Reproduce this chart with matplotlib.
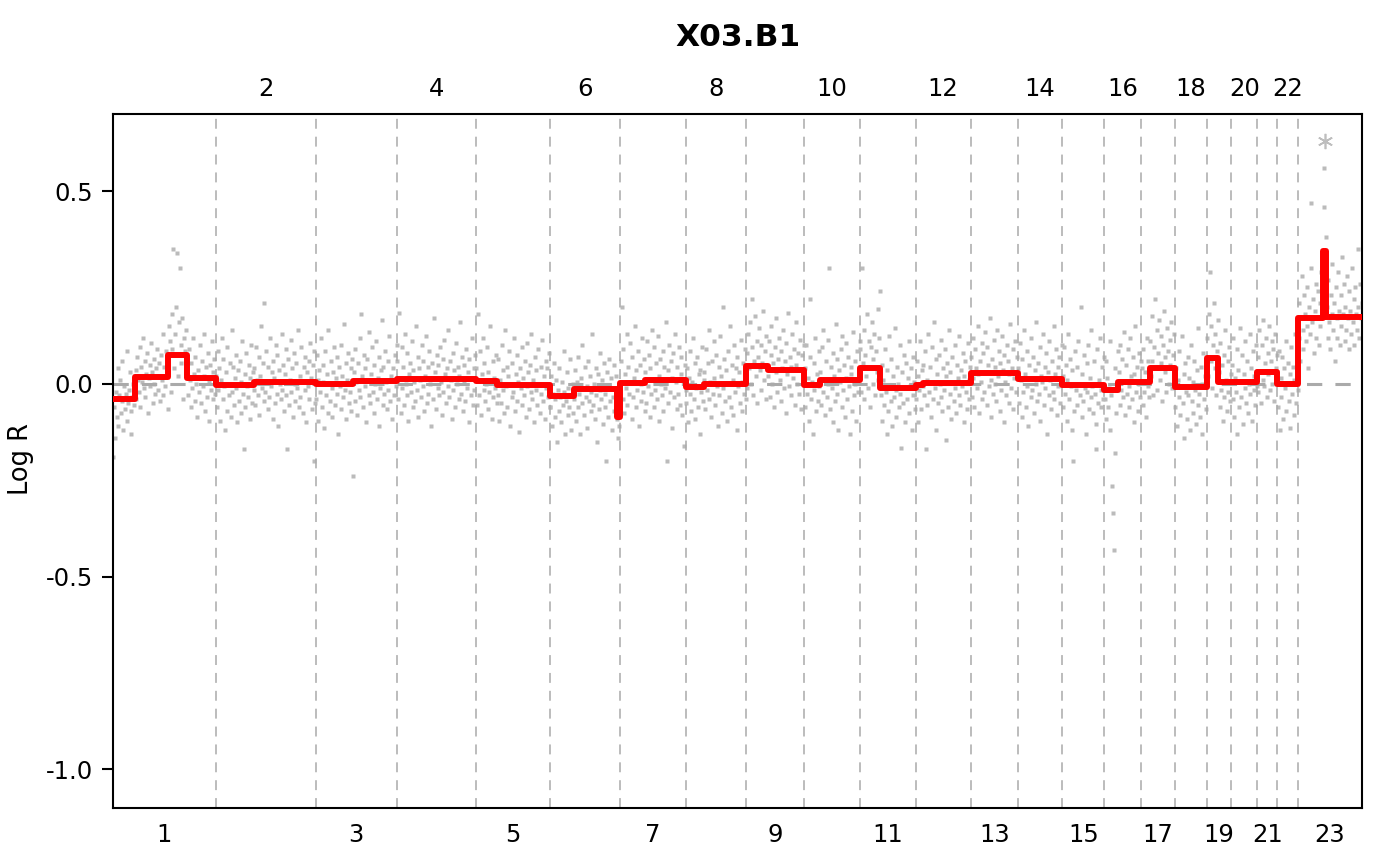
import numpy as np
import matplotlib
matplotlib.use("Agg")
import matplotlib.pyplot as plt

plt.rcParams['font.family'] = ['DejaVu Sans']
plt.rcParams['axes.unicode_minus'] = False

sample_name = "X03.B1"

# chromosome sizes (Mb, hg19), 23 = X
chrom_names = [str(i) for i in range(1, 24)]
chrom_len = [249.25, 243.2, 198.02, 191.15, 180.92, 171.12, 159.14, 146.36,
             141.21, 135.53, 135.01, 133.85, 115.17, 107.35, 102.53, 90.35,
             81.2, 78.08, 59.13, 63.03, 48.13, 51.3, 155.27]

# segmentation (start within chromosome, Mb) and segment means
seg_chrom = [1, 1, 1, 1, 2, 2, 3, 3, 4, 5, 5, 6, 6, 6, 7, 7, 8, 8, 9, 9, 10, 10,
             11, 11, 12, 12, 13, 14, 15, 16, 16, 17, 17, 18, 19, 19, 20, 21, 22,
             23, 23, 23]
seg_start = [0, 53.5, 133.7, 179.9, 0, 93.5, 0, 91, 0, 0, 52, 0, 58, 163, 0, 60,
             0, 44, 0, 53, 0, 38, 0, 48.6, 0, 18, 0, 0, 0, 0, 33, 0, 20, 0, 0, 27,
             0, 0, 0, 0, 60, 68]
seg_mean = [-0.038, 0.018, 0.074, 0.016, -0.003, 0.004, 0.000, 0.007, 0.012,
            0.008, -0.003, -0.031, -0.014, -0.087, 0.003, 0.010, -0.007, 0.001,
            0.047, 0.035, -0.004, 0.010, 0.040, -0.010, -0.003, 0.002, 0.027,
            0.012, -0.004, -0.016, 0.004, 0.004, 0.042, -0.008, 0.066, 0.004,
            0.006, 0.032, 0.001, 0.170, 0.345, 0.174]

# probe log R per chromosome (x 1/1000), in genomic order
probe_logr = [
    # 1
    "-190 -60 -140 -20 -85 40 -110 -30 10 -75 -45 60 -120 -5 -65 -25 85 -95 -50 -15 30 -70 -130 -35 0 -55 20 "
    "35 -40 70 10 -20 95 -60 45 5 120 -10 60 -35 25 80 -75 15 50 -5 105 30 -50 65 0 -25 40 90 -15 55 20 -45 75 10 130 -30 45 -5 85 25 -65 "
    "60 150 110 -20 180 90 350 40 130 200 75 340 20 160 300 100 55 170 -40 120 85 140 30 "
    "40 -30 90 10 -60 55 -10 120 25 -45 70 0 -85 35 -20 100 15 -50 60 -5 130 20 -70 45 -35 80 5 -95 50 -15 110 30 -40 65 -25",
    # 2
    "20 -60 85 -15 40 -95 10 120 -40 65 -5 -120 30 -70 95 0 -30 55 -85 140 -20 45 -55 15 75 -10 -100 35 -45 60 5 -75 110 -25 -170 25 -60 80 -5 -35 50 -90 15 100 -50 30 -15 "
    "40 -55 95 10 -30 70 -80 20 150 -10 55 -45 210 -20 85 5 -65 45 -35 120 -5 30 -90 60 15 -50 100 -25 75 -110 35 0 -40 130 -15 50 -70 25 90 -30 -170 65 -55 10 115 -20 40 -85 80 0 -45 55 -10 140 -60 20 -35 95 5 -75 45 -15 70 -100 30 -5 60 -40 105 15 -65 50 -200 85 -50",
    # 3
    "-40 75 10 -95 35 -20 120 -60 50 5 -115 85 -30 25 -75 140 0 -45 60 -10 -85 30 95 -55 15 -25 70 -130 45 -5 100 -65 20 -35 155 -15 55 -90 10 80 -50 -20 40 -70 65 "
    "-240 30 -45 90 5 -80 55 -15 120 -35 180 20 -60 75 -5 40 -100 65 10 -30 135 -50 25 95 -20 -75 50 0 110 -40 15 -110 70 -10 35 165 -55 45 -25 85 5 -65 60 -15 125 -45 20 -90 40 10 -30 75 -5 100",
    # 4
    "60 -40 185 15 -75 95 -10 45 -55 130 0 -30 80 -95 25 55 -20 110 -60 35 5 -45 150 -15 70 -85 40 10 -35 100 -5 60 -70 20 125 -50 45 -25 85 0 -110 55 15 -40 170 30 -65 75 -10 50 "
    "-30 95 5 -80 65 -20 115 25 -50 40 -5 140 -35 60 10 -90 80 -15 35 -60 105 0 45 -40 20 160 -25 70 -70 50 5 -45 90 -10 30 -100 65 15 -30 120 -55 40 -15 75",
    # 5
    "40 -55 180 10 -30 85 -80 25 120 -15 55 -45 0 95 -65 30 -20 150 5 -90 60 -35 15 -10 75 -50 "
    "-30 65 -95 10 -50 100 -15 35 -75 140 -5 45 -60 20 85 -110 0 -35 55 -20 120 -70 25 -45 75 5 -125 40 -10 95 -55 15 -30 60 -85 105 -5 30 -65 50 -20 130 -40 10 -100 70 -15 35 -55 90 0 -75 45 -25 115 -45 20 -90 60 -10 40 -35 80 -60",
    # 6
    "-60 20 -110 -25 55 -85 -40 10 -150 -15 -70 40 -35 -100 5 -55 85 -20 -130 -45 30 -80 -10 -60 65 -120 -30 0 -75 "
    "-40 35 -95 5 -60 70 -25 -130 15 -50 100 -10 -80 45 -35 -5 -115 60 -45 20 -70 -20 130 -55 0 -90 40 -30 -150 25 -65 80 -15 -40 10 -105 55 -25 -60 -200 30 -85 -5 65 -45 15 -120 -35 50 -70 -10 20 "
    "-90 -140 -40 -110 -60",
    # 7
    "60 200 -40 90 -75 25 -10 130 -55 45 -25 105 5 -90 70 -35 15 150 -60 35 -15 85 -110 50 0 -45 120 -20 65 -70 "
    "30 -50 110 -5 75 -85 40 -25 140 10 -60 95 -15 55 -40 125 20 -95 65 0 -30 85 -70 45 -10 160 -200 -50 35 100 -20 60 -115 15 80 -35 130 5 -65 45 -25 95 -55 25 70 -80 10 -160 50 -15",
    # 8
    "-50 40 -100 15 -25 85 -70 5 120 -40 55 -90 -10 70 -60 25 -130 35 -20 95 -45 10 "
    "30 -65 90 -15 55 -40 140 5 -85 60 -25 110 15 -55 75 -5 -110 45 -30 125 20 -75 200 -10 65 -45 35 -95 85 0 -35 150 -60 50 10 -80 100 -20 40 -120 70 -5 30 -50 115 5 -70 55 -25 90 -40",
    # 9
    "80 -10 130 40 160 0 95 220 -30 60 175 20 110 -50 70 145 35 -15 100 55 190 10 85 -40 125 45 "
    "20 110 -35 75 150 0 55 -60 95 30 170 -20 65 120 10 -45 85 40 140 -10 60 -75 105 25 185 -5 70 45 -30 130 15 90 -55 50 160 0 80 -25 115 35 -65 75 20 100",
    # 10
    "40 -60 100 -25 15 -95 70 220 -40 5 -130 55 -15 120 -70 25 -45 85 -5 "
    "30 -55 95 -20 140 10 -80 60 -35 115 0 300 -65 45 -10 -100 80 20 -45 155 -25 65 -120 35 5 90 -60 125 -15 50 -85 15 105 -40 70 -5 -130 45 25 -70 135 -30 60 0 -95 85 -20 40 110",
    # 11
    "90 -20 300 55 140 -40 75 20 180 -10 110 45 -60 95 160 0 65 130 -30 85 30 195 10 120 240 "
    "-30 50 -95 10 -55 90 -20 -130 35 -70 125 -5 -45 65 -110 20 -35 145 -15 -85 45 0 -60 100 -25 -165 30 -50 75 -10 -100 55 -40 15 110 -75 -5 40 -120 70 -30 5 -65",
    # 12
    "-40 60 -100 20 -15 110 -65 35 -5 "
    "50 -30 85 -170 10 -55 130 -20 45 -85 5 95 -40 160 -10 65 -120 25 -50 75 0 -35 115 -70 40 -15 90 -145 20 55 -60 140 -25 30 -90 70 5 -45 100 -10 -75 50 15 -30 125 -55 35 -5 80 -100 20 60 -20 -65 105 10 -40 45",
    # 13
    "70 -35 120 15 -60 90 40 -10 150 25 -75 60 5 105 -40 80 -20 135 30 -55 95 50 -5 170 10 -85 65 -25 115 45 0 -45 140 20 85 -70 55 -15 125 35 -100 75 5 -30 100 60 -50 25 155 -10 40 90 -65 15 110 -20 70 30",
    # 14
    "40 -50 105 10 -85 65 -20 140 25 -60 85 -5 -110 50 15 -35 120 -15 70 -75 35 0 160 -45 55 -25 95 -95 20 5 130 -55 45 -10 80 -130 30 -30 110 10 -65 60 -20 150 -40 25 90 -80 45 -5 70 -50 15 100",
    # 15
    "20 -60 95 -25 50 -95 10 130 -40 65 -5 -120 35 -200 -70 85 -15 45 -55 110 0 -30 200 -85 25 -45 75 -10 -130 55 -20 100 -65 15 -35 140 -5 -75 60 -25 -170 -105 90 -50 10 120 -15 -60 45 -40 70",
    # 16
    "-40 60 -90 15 -60 -10 110 -120 -30 -265 -335 -430 -180 40 -75 -15 85 "
    "30 -55 100 -15 65 -35 135 5 -80 50 -25 90 -5 -60 120 20 -40 70 -100 25 150 -20 45 -70 80 0 -35 60",
    # 17
    "40 -55 90 -20 30 -85 120 -5 60 -35 "
    "110 20 175 60 -30 95 220 40 140 -15 80 165 10 125 55 -45 100 190 30 70 -20 145 85 0 115 50 160 -10 75 130 25",
    # 18
    "-60 40 -110 10 -35 85 -80 -5 125 -50 25 -140 55 -20 -90 70 -30 15 -120 100 -45 5 -75 60 -15 -105 35 -55 145 -25 -85 45 0 -130 80 -40 20 -65 30",
    # 19
    "120 20 180 290 60 150 -10 100 210 40 130 -30 85 165 "
    "30 -60 105 -15 50 -95 75 -35 140 10 -70 60 -20 95 -45 25",
    # 20
    "50 -40 120 -85 15 -20 90 -130 35 -60 145 5 -35 75 -105 25 -10 110 -50 60 -75 0 130 -25 40 -95 85 -15 20 -55 100 -5",
    # 21
    "70 -20 140 30 -50 100 10 165 -5 55 120 -35 80 25 150 -15 60 110 0 90 -45 130 40 75",
    # 22
    "30 -60 85 -120 15 -35 70 -90 40 -10 110 -70 0 55 -45 25 -115 95 -25 45 -80 10 130 -50 20 -15",
    # 23 (X)
    "120 210 60 170 280 140 90 230 180 110 250 150 40 200 130 300 470 160 220 80 190 260 120 170 240 100 210 150 290 180 "
    "330 560 460 250 380 "
    "200 120 270 160 90 230 180 310 140 210 60 250 170 120 290 190 100 230 150 330 180 260 110 200 140 280 170 90 240 190 130 300 160 220 100 250 180 140 350 200 120 260 170 210",
]

# flagged probe drawn as an asterisk
flag_chrom = [23]
flag_pos = [65.6]
flag_logr = [0.63]

# genome offsets
offsets = np.concatenate([[0], np.cumsum(chrom_len)[:-1]])
total = float(np.sum(chrom_len))
centers = offsets + np.array(chrom_len) / 2.0

fig = plt.figure(figsize=(14, 8.66), dpi=100)
ax = fig.add_axes([113 / 1400, 1 - 808 / 866, 1249 / 1400, 694 / 866])

# probes
px, py = [], []
for c, s in enumerate(probe_logr):
    vals = np.array(s.split(), dtype=float) / 1000.0
    n = len(vals)
    pos = offsets[c] + (np.arange(n) + 0.5) / n * chrom_len[c]
    px.append(pos)
    py.append(vals)
px = np.concatenate(px)
py = np.concatenate(py)
ax.plot(px, py, 's', ms=3.3, mec='none', color='#BBBBBB', zorder=1)

for c, p, v in zip(flag_chrom, flag_pos, flag_logr):
    ax.plot(offsets[c - 1] + p, v, marker=(6, 2, 0), ms=11, mew=1.2,
            color='#BEBEBE', ls='none', zorder=1)

# chromosome borders and zero line
for b in offsets[1:]:
    ax.axvline(b, color='#AAAAAA', lw=1.1, dashes=(6.5, 5.2), zorder=2)
ax.axhline(0, color='#AAAAAA', lw=2.2, dashes=(5, 4.3), zorder=2)

# segments as one step path
sx, sy = [], []
for i in range(len(seg_chrom)):
    c = seg_chrom[i] - 1
    if i + 1 < len(seg_chrom) and seg_chrom[i + 1] == seg_chrom[i]:
        end = seg_start[i + 1]
    else:
        end = chrom_len[c]
    sx += [offsets[c] + seg_start[i], offsets[c] + end]
    sy += [seg_mean[i], seg_mean[i]]
ax.plot(sx, sy, color='#FF0000', lw=4.3, solid_joinstyle='round',
        solid_capstyle='butt', zorder=4)

ax.set_xlim(0, total)
ax.set_ylim(-1.1, 0.7)

ax.set_yticks([-1.0, -0.5, 0.0, 0.5])
ax.set_yticklabels(['-1.0', '-0.5', '0.0', '0.5'])
ax.tick_params(axis='y', length=8, width=1.5, pad=6.5, labelsize=17.5)

odd = list(range(0, 23, 2))
even = list(range(1, 23, 2))
ax.set_xticks(centers[odd])
ax.set_xticklabels([chrom_names[i] for i in odd])
ax.tick_params(axis='x', length=0, pad=10.5, labelsize=17.5)

top = ax.secondary_xaxis('top')
top.set_xticks(centers[even])
top.set_xticklabels([chrom_names[i] for i in even])
top.tick_params(axis='x', length=0, pad=9.5, labelsize=17.5)
top.spines['top'].set_visible(False)

for sp in ax.spines.values():
    sp.set_linewidth(1.5)

fig.text(737.5 / 1400, 1 - 38 / 866, sample_name, ha='center', va='center',
         fontsize=22.5, fontweight='bold')
fig.text(21 / 1400, 1 - 459 / 866, 'Log R', ha='center', va='center',
         rotation=90, fontsize=18.5)

fig.savefig('out.png', dpi=100)
